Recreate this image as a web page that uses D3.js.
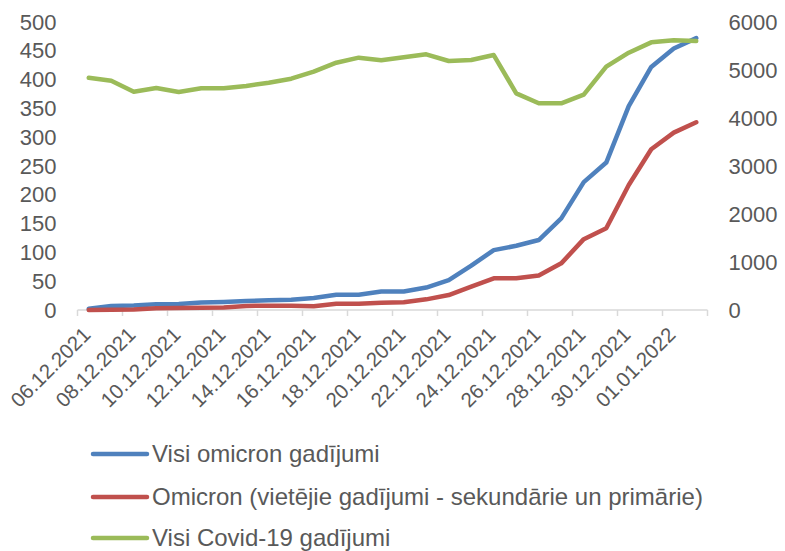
<!DOCTYPE html>
<meta charset="utf-8">
<script src="https://d3js.org/d3.v7.min.js"></script>
<style>
  body { margin: 0; background: #fff; }
  text { font-family: "Liberation Sans", Arial, sans-serif; fill: #595959; }
</style>
<div id="chart"></div>
<script>

// dates (category axis)
var dates = ["06.12.2021","07.12.2021","08.12.2021","09.12.2021","10.12.2021","11.12.2021","12.12.2021",
  "13.12.2021","14.12.2021","15.12.2021","16.12.2021","17.12.2021","18.12.2021","19.12.2021",
  "20.12.2021","21.12.2021","22.12.2021","23.12.2021","24.12.2021","25.12.2021","26.12.2021",
  "27.12.2021","28.12.2021","29.12.2021","30.12.2021","31.12.2021","01.01.2022","02.01.2022"];

// left axis series
var allOmicron = [2, 7, 8, 10, 10.5, 13, 14, 15.5, 17, 18, 21, 26.5, 26.5, 32,
  32, 39, 52, 77, 104, 111.5, 121.5, 159, 222, 256, 354, 422, 454, 472];
var localOmicron = [0, 0.5, 1, 3, 3.5, 4, 4.5, 7, 7.5, 7.5, 6.5, 11, 11, 12.7,
  13.3, 18.5, 26, 40.5, 55, 55, 60, 81, 123, 142, 217, 279, 308, 326];

// right axis series
var allCovid = [4840, 4777, 4548, 4625, 4542, 4618, 4618, 4667, 4736, 4819, 4965, 5152, 5257, 5201,
  5264, 5326, 5187, 5208, 5312, 4514, 4306, 4306, 4486, 5069, 5361, 5576, 5618, 5604];

var leftTicks = [0, 50, 100, 150, 200, 250, 300, 350, 400, 450, 500];
var rightTicks = [0, 1000, 2000, 3000, 4000, 5000, 6000];

var series = [
  {name: "Visi omicron gadījumi", values: allOmicron, axis: "left", color: "#4f81bd"},
  {name: "Omicron (vietējie gadījumi - sekundārie un primārie)", values: localOmicron, axis: "left", color: "#c0504d"},
  {name: "Visi Covid-19 gadījumi", values: allCovid, axis: "right", color: "#9bbb59"}
];

var width = 785, height = 551;
var plot = {left: 77.5, right: 707.5, top: 22, bottom: 310};

var svg = d3.select("#chart")
  .append("svg")
    .attr("width", width)
    .attr("height", height);

var x = d3.scaleBand()
  .domain(dates)
  .range([plot.left, plot.right]);

var yL = d3.scaleLinear()
  .domain([0, 500])
  .range([plot.bottom, plot.top]);

var yR = d3.scaleLinear()
  .domain([0, 6000])
  .range([plot.bottom, plot.top]);

// left axis labels
svg.append("g")
  .attr("transform", "translate(" + (plot.left - 21) + ",0)")
  .call(d3.axisLeft(yL).tickValues(leftTicks).tickSize(0).tickPadding(0))
  .call(function(g) { g.select(".domain").remove(); })
  .selectAll("text")
    .attr("fill", "#595959")
    .style("font-size", "22px")
    .style("font-family", "Liberation Sans, Arial, sans-serif");

// right axis labels
svg.append("g")
  .attr("transform", "translate(" + (plot.right + 21) + ",0)")
  .call(d3.axisRight(yR).tickValues(rightTicks).tickFormat(d3.format("d")).tickSize(0).tickPadding(0))
  .call(function(g) { g.select(".domain").remove(); })
  .selectAll("text")
    .attr("fill", "#595959")
    .style("font-size", "22px")
    .style("font-family", "Liberation Sans, Arial, sans-serif");

// x axis: line + tick marks between every second category
var tickPos = dates.filter(function(d, i) { return i % 2 == 0; }).map(function(d) { return x(d); });
tickPos.push(plot.right);

var xg = svg.append("g");
xg.append("line")
  .attr("x1", plot.left).attr("x2", plot.right)
  .attr("y1", plot.bottom).attr("y2", plot.bottom)
  .attr("stroke", "#d9d9d9").attr("stroke-width", 1.5);
xg.selectAll(".tick")
  .data(tickPos)
  .enter().append("line")
    .attr("x1", function(d) { return d; }).attr("x2", function(d) { return d; })
    .attr("y1", plot.bottom).attr("y2", plot.bottom + 6)
    .attr("stroke", "#d9d9d9").attr("stroke-width", 1.5);

xg.selectAll(".lbl")
  .data(dates.filter(function(d, i) { return i % 2 == 0; }))
  .enter().append("text")
    .attr("text-anchor", "end")
    .style("font-size", "20.5px")
    .attr("transform", function(d) {
      return "translate(" + (x(d) + x.bandwidth() / 2 + 3) + "," + (plot.bottom + 26) + ")rotate(-45)";
    })
    .text(function(d) { return d; });

// lines
var line = function(scale) {
  return d3.line()
    .x(function(d, i) { return x(dates[i]) + x.bandwidth() / 2; })
    .y(function(d) { return scale(d); });
};

svg.selectAll(".series")
  .data(series)
  .enter().append("path")
    .attr("fill", "none")
    .attr("stroke", function(d) { return d.color; })
    .attr("stroke-width", 4.5)
    .attr("stroke-linejoin", "round")
    .attr("stroke-linecap", "round")
    .attr("d", function(d) { return line(d.axis == "left" ? yL : yR)(d.values); });

// legend
var legendY = [454, 497, 538];
var lg = svg.selectAll(".legend")
  .data(series)
  .enter().append("g")
    .attr("transform", function(d, i) { return "translate(0," + legendY[i] + ")"; });

lg.append("line")
  .attr("x1", 93).attr("x2", 147)
  .attr("stroke", function(d) { return d.color; })
  .attr("stroke-width", 4.5)
  .attr("stroke-linecap", "round");

lg.append("text")
  .attr("x", 152)
  .attr("dy", "0.35em")
  .style("font-size", "24px")
  .text(function(d) { return d.name; });

</script>
